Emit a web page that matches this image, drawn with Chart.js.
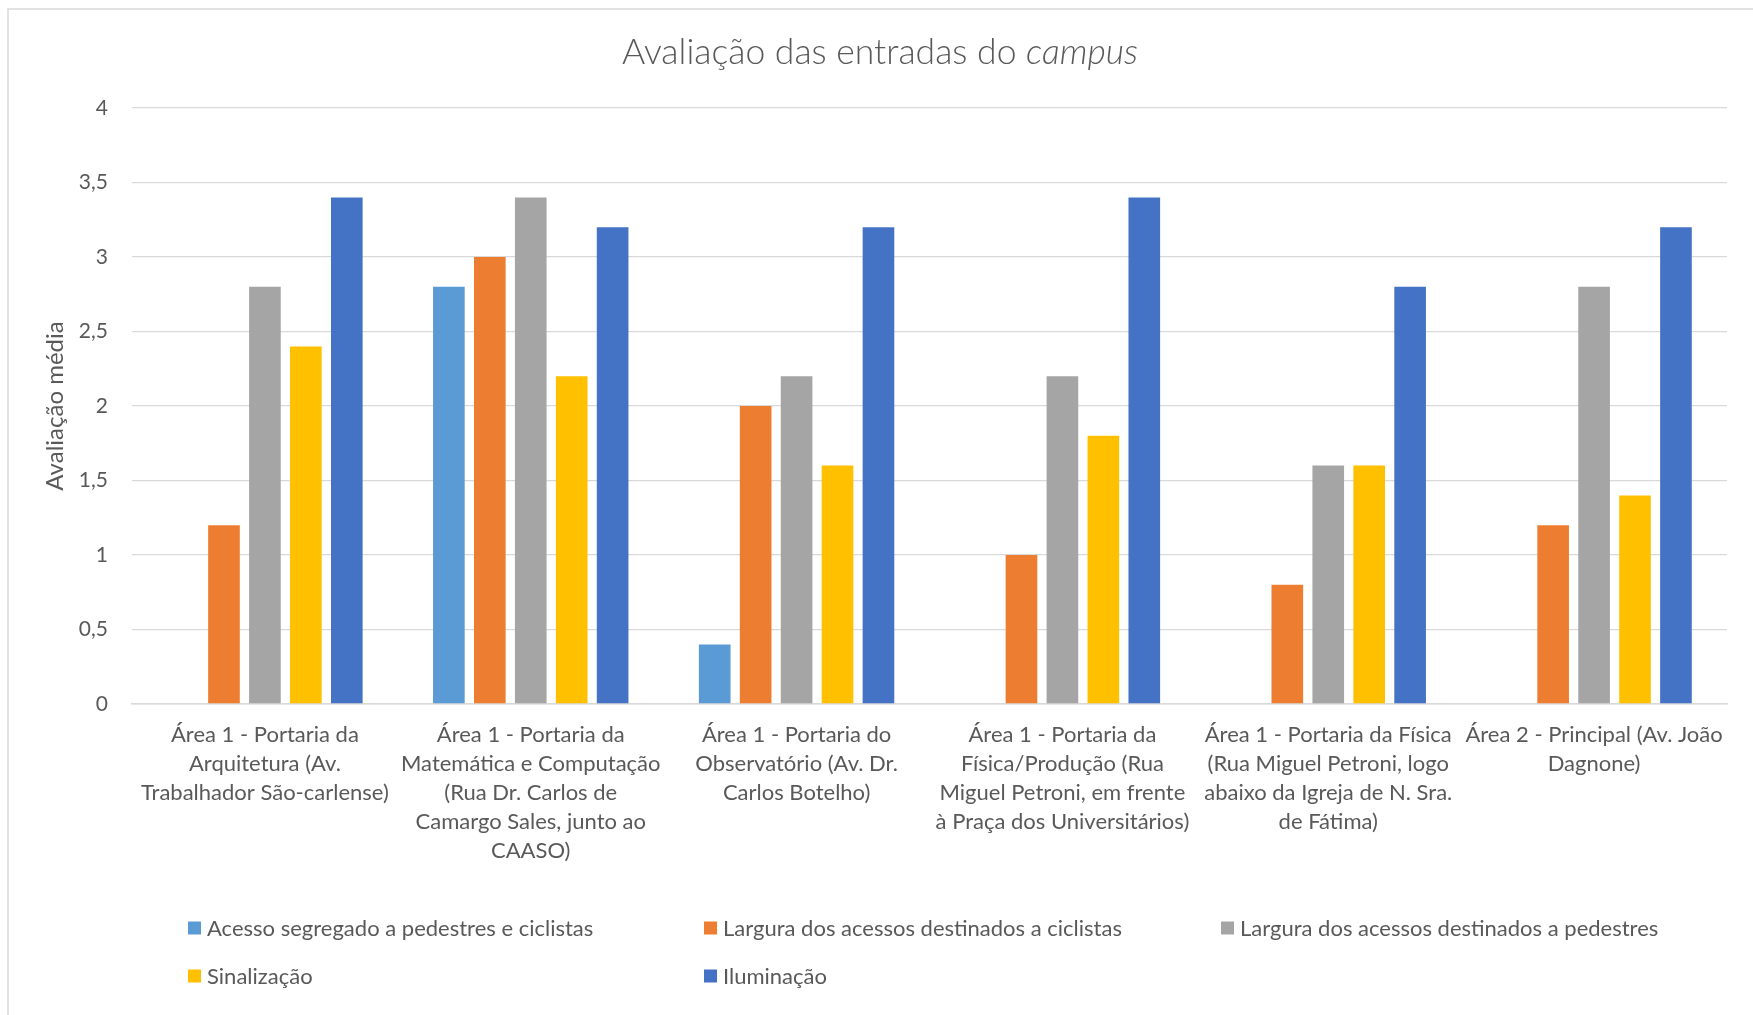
<!DOCTYPE html>
<html lang="pt-BR">
<head>
<meta charset="UTF-8">
<title>Avaliação das entradas do campus</title>
<script src="https://cdn.jsdelivr.net/npm/chart.js@4"></script>
<style>
  html, body { margin: 0; padding: 0; background: #fff; }
  #wrap { width: 1753px; height: 1015px; }
</style>
</head>
<body>
<div id="wrap"><canvas id="chart" width="1753" height="1015"></canvas></div>
<script>
// ---------- Data ----------
const categories = [
  ['Área 1 - Portaria da', 'Arquitetura (Av.', 'Trabalhador São-carlense)'],
  ['Área 1 - Portaria da', 'Matemática e Computação', '(Rua Dr. Carlos de', 'Camargo Sales, junto ao', 'CAASO)'],
  ['Área 1 - Portaria do', 'Observatório (Av. Dr.', 'Carlos Botelho)'],
  ['Área 1 - Portaria da', 'Física/Produção (Rua', 'Miguel Petroni, em frente', 'à Praça dos Universitários)'],
  ['Área 1 - Portaria da Física', '(Rua Miguel Petroni, logo', 'abaixo da Igreja de N. Sra.', 'de Fátima)'],
  ['Área 2 - Principal (Av. João', 'Dagnone)'],
];

const seriesNames = [
  'Acesso segregado a pedestres e ciclistas',
  'Largura dos acessos destinados a ciclistas',
  'Largura dos acessos destinados a pedestres',
  'Sinalização',
  'Iluminação',
];

const acessoSegregado   = [0,   2.8, 0.4, 0,   0,   0];
const larguraCiclistas  = [1.2, 3.0, 2.0, 1.0, 0.8, 1.2];
const larguraPedestres  = [2.8, 3.4, 2.2, 2.2, 1.6, 2.8];
const sinalizacao       = [2.4, 2.2, 1.6, 1.8, 1.6, 1.4];
const iluminacao        = [3.4, 3.2, 3.2, 3.4, 2.8, 3.2];

const yTicks = [0, 0.5, 1, 1.5, 2, 2.5, 3, 3.5, 4];

const COLORS = ['#5B9BD5', '#ED7D31', '#A5A5A5', '#FFC000', '#4472C4'];
const TEXT = '#595959';
const GRID = '#D9D9D9';
const FONT = 'Lato, "Open Sans", sans-serif';

const seriesValues = [acessoSegregado, larguraCiclistas, larguraPedestres, sinalizacao, iluminacao];

// ---------- Plugins: title with italic word, grid legend, frame ----------
const titlePlugin = {
  id: 'mixedTitle',
  afterDraw(chart) {
    const ctx = chart.ctx;
    const plain = 'Avaliação das entradas do ';
    const ital = 'campus';
    ctx.save();
    ctx.fillStyle = TEXT;
    ctx.textBaseline = 'alphabetic';
    ctx.textAlign = 'left';
    const fPlain = '300 35.5px ' + FONT;
    const fItal = 'italic 300 35.5px ' + FONT;
    ctx.font = fPlain;
    const w1 = ctx.measureText(plain).width;
    ctx.font = fItal;
    const w2 = ctx.measureText(ital).width;
    const x0 = 880 - (w1 + w2) / 2;
    ctx.font = fPlain;
    ctx.fillText(plain, x0, 64);
    ctx.font = fItal;
    ctx.fillText(ital, x0 + w1, 64);
    ctx.restore();
  }
};

const legendPlugin = {
  id: 'gridLegend',
  afterDraw(chart) {
    const ctx = chart.ctx;
    const cols = [188, 704, 1221];
    const rows = [928, 976];
    ctx.save();
    ctx.font = '22px ' + FONT;
    ctx.textBaseline = 'middle';
    ctx.textAlign = 'left';
    chart.data.datasets.forEach((ds, i) => {
      const x = cols[i % 3];
      const y = rows[Math.floor(i / 3)];
      ctx.fillStyle = ds.backgroundColor;
      ctx.fillRect(x, y - 6.5, 13, 13);
      ctx.fillStyle = TEXT;
      ctx.fillText(ds.label, x + 19, y + 1);
    });
    ctx.restore();
  }
};

const framePlugin = {
  id: 'frame',
  beforeDraw(chart) {
    const ctx = chart.ctx;
    ctx.save();
    ctx.strokeStyle = GRID;
    ctx.lineWidth = 1.5;
    ctx.beginPath();
    ctx.moveTo(8, 1015);
    ctx.lineTo(8, 9);
    ctx.lineTo(1753, 9);
    ctx.stroke();
    ctx.restore();
  }
};

// ---------- Chart ----------
new Chart(document.getElementById('chart'), {
  type: 'bar',
  data: {
    labels: categories,
    datasets: seriesNames.map((name, i) => ({
      label: name,
      data: seriesValues[i],
      backgroundColor: COLORS[i],
      borderWidth: 0,
      categoryPercentage: 0.77,
      barPercentage: 0.773,
    })),
  },
  options: {
    responsive: false,
    animation: false,
    devicePixelRatio: 1,
    layout: { padding: { top: 108, right: 26, bottom: 111, left: 0 } },
    plugins: {
      legend: { display: false },
      title: { display: false },
      tooltip: { enabled: false },
    },
    scales: {
      x: {
        grid: { display: false, drawTicks: false },
        border: { color: GRID, width: 1.5 },
        ticks: {
          color: TEXT,
          font: { family: FONT, size: 22, lineHeight: 1.32 },
          padding: 16.5,
          maxRotation: 0,
          autoSkip: false,
        },
        afterFit(scale) { scale.height = 200; },
      },
      y: {
        min: 0,
        max: 4,
        afterBuildTicks(scale) { scale.ticks = yTicks.map(v => ({ value: v })); },
        grid: { color: GRID, lineWidth: 1.3, drawTicks: false },
        border: { display: false },
        ticks: {
          color: TEXT,
          font: { family: FONT, size: 21 },
          padding: 24,
          callback: v => String(v).replace('.', ','),
        },
        title: {
          display: true,
          text: 'Avaliação média',
          color: TEXT,
          font: { family: FONT, size: 24, lineHeight: 1.2 },
          padding: { top: 41, bottom: 0 },
        },
        afterFit(scale) { scale.width = 132; },
      },
    },
  },
  plugins: [framePlugin, titlePlugin, legendPlugin],
});
</script>
</body>
</html>
